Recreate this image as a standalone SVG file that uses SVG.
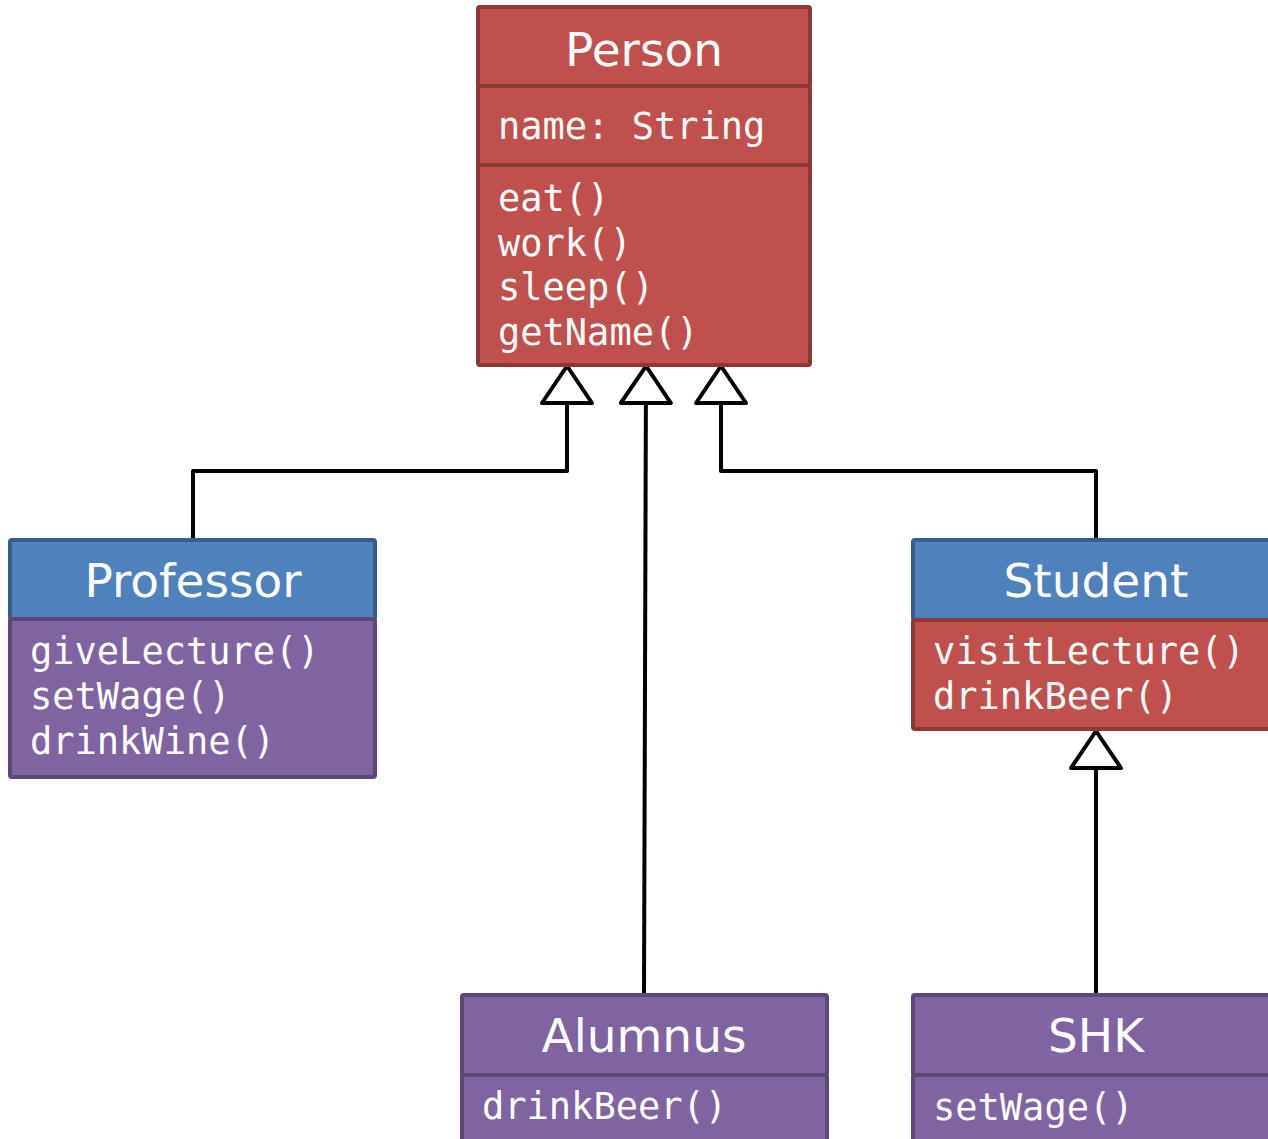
<svg xmlns="http://www.w3.org/2000/svg" width="1268" height="1139" viewBox="0 0 1268 1139">
  <style>
    .red { fill: #c0504d; stroke: #8c3836; stroke-width: 4; }
    .blue { fill: #4f81bd; stroke: #385d8a; stroke-width: 4; }
    .purple { fill: #8064a2; stroke: #5c4776; stroke-width: 4; }
    .title { font-family: "DejaVu Sans", sans-serif; font-size: 47px; fill: #ffffff; text-anchor: middle; }
    .mem { font-family: "DejaVu Sans Mono", monospace; font-size: 37px; fill: #ffffff; }
    .conn { fill: none; stroke: #000000; stroke-width: 4; stroke-linejoin: round; }
  </style>
  <defs>
    <marker id="gen" markerUnits="userSpaceOnUse" viewBox="-4 -4 45 58" markerWidth="45" markerHeight="58" refX="37" refY="25" orient="auto" overflow="visible">
      <path d="M0,0 L37,25 L0,50 Z" fill="#ffffff" stroke="#000000" stroke-width="4" stroke-linejoin="round"/>
    </marker>
  </defs>
  <rect width="1268" height="1139" fill="#ffffff"/>

  <g id="connectors">
    <path class="conn" d="M193,540 V471 H567 V366" marker-end="url(#gen)"/>
    <path class="conn" d="M644,995 L646,366" marker-end="url(#gen)"/>
    <path class="conn" d="M1096,540 V471 H721 V366" marker-end="url(#gen)"/>
    <path class="conn" d="M1096,993 V731" marker-end="url(#gen)"/>
  </g>

  <g id="person">
    <rect class="red" x="478" y="7" width="332" height="79" rx="2"/>
    <rect class="red" x="478" y="86" width="332" height="79" rx="2"/>
    <rect class="red" x="478" y="165" width="332" height="200" rx="2"/>
    <text class="title" x="644" y="66">Person</text>
    <text class="mem" x="498" y="139">name: String</text>
    <text class="mem" x="498" y="211">eat()</text>
    <text class="mem" x="498" y="256">work()</text>
    <text class="mem" x="498" y="300">sleep()</text>
    <text class="mem" x="498" y="345">getName()</text>
  </g>

  <g id="professor">
    <rect class="blue" x="10" y="540" width="365" height="79" rx="2"/>
    <rect class="purple" x="10" y="619" width="365" height="158" rx="2"/>
    <text class="title" x="193" y="597">Professor</text>
    <text class="mem" x="30" y="664">giveLecture()</text>
    <text class="mem" x="30" y="709">setWage()</text>
    <text class="mem" x="30" y="754">drinkWine()</text>
  </g>

  <g id="student">
    <rect class="blue" x="913" y="540" width="370" height="80" rx="2"/>
    <rect class="red" x="913" y="620" width="370" height="109" rx="2"/>
    <text class="title" x="1096" y="597">Student</text>
    <text class="mem" x="933" y="664">visitLecture()</text>
    <text class="mem" x="933" y="709">drinkBeer()</text>
  </g>

  <g id="alumnus">
    <rect class="purple" x="462" y="995" width="365" height="80" rx="2"/>
    <rect class="purple" x="462" y="1075" width="365" height="80" rx="2"/>
    <text class="title" x="644" y="1052">Alumnus</text>
    <text class="mem" x="482" y="1119">drinkBeer()</text>
  </g>

  <g id="shk">
    <rect class="purple" x="913" y="995" width="370" height="80" rx="2"/>
    <rect class="purple" x="913" y="1075" width="370" height="80" rx="2"/>
    <text class="title" x="1096" y="1052">SHK</text>
    <text class="mem" x="933" y="1120">setWage()</text>
  </g>
</svg>
